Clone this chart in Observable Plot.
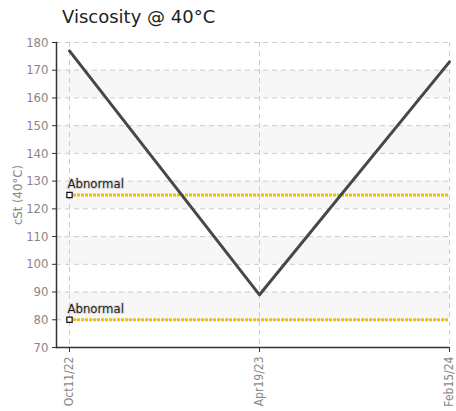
<!DOCTYPE html>
<html><head><meta charset="utf-8">
<script src="https://cdn.jsdelivr.net/npm/d3@7"></script>
<script src="https://cdn.jsdelivr.net/npm/@observablehq/plot@0.6"></script>
<style>
body{margin:0;background:#fff;}
#title{height:35px;box-sizing:border-box;padding-left:62px;padding-top:6px;font:18px "DejaVu Sans",sans-serif;color:#222;}
#chart svg{display:block;}
</style></head><body>
<div id="title">Viscosity @ 40°C</div>
<div id="chart"></div>
<script>
const dates = ["Oct11/22","Apr19/23","Feb15/24"];
const values = [177, 89, 173];
const limits = [125, 80];
const limitLabel = "Abnormal";
const yTicks = [70,80,90,100,110,120,130,140,150,160,170,180];
const bandStarts = [80,100,120,140,160];

const data = dates.map((d,i)=>({date:d, value:values[i]}));
const bands = bandStarts.map(b=>({y1:b, y2:b+10}));
const lim = limits.map(v=>({v, x1:dates[0], x2:dates[dates.length-1]}));
const narrow = "'Liberation Sans Narrow','DejaVu Sans Condensed',sans-serif";

const chart = Plot.plot({
  width:456, height:376,
  marginTop:7, marginBottom:64, marginLeft:56, marginRight:7,
  insetLeft:12,
  style:{fontFamily:narrow, fontSize:"13px", color:"#888", background:"#fff", overflow:"visible"},
  x:{type:"point", domain:dates, padding:0, label:null},
  y:{domain:[70,180], ticks:yTicks, label:"cSt (40°C)"},
  marks:[
    Plot.rectY(bands,{y1:"y1", y2:"y2", fill:"#f7f7f7"}),
    Plot.gridY(yTicks,{stroke:"#ccc", strokeOpacity:1, strokeDasharray:"5,4"}),
    Plot.gridX(dates,{stroke:"#ccc", strokeOpacity:1, strokeDasharray:"5,4"}),
    Plot.axisY({ticks:yTicks, tickSize:4, tickPadding:4, fill:"#888", stroke:"#333", fontSize:13,
      label:"cSt (40°C)", labelAnchor:"center", labelArrow:false, labelOffset:44}),
    Plot.axisX({tickSize:5, tickRotate:-90, fill:"#888", stroke:"#333", fontSize:12, tickPadding:4}),
    Plot.frame({anchor:"left", stroke:"#333", strokeWidth:1.5}),
    Plot.ruleY([70],{stroke:"#333", strokeWidth:1.5}),
    Plot.ruleY(lim,{y:"v", x1:"x1", x2:"x2", stroke:"#f2c200", strokeWidth:3, strokeDasharray:"3,1"}),
    Plot.line(data,{x:"date", y:"value", stroke:"#474747", strokeWidth:3}),
    Plot.dot(lim,{x:"x1", y:"v", symbol:"square", r:3, fill:"#fff", stroke:"#111", strokeWidth:1.2}),
    Plot.text(lim,{x:"x1", y:"v", text:()=>limitLabel, dx:-2, dy:-11, textAnchor:"start", fill:"#222",
      fontSize:13, fontFamily:narrow, stroke:"#ddd", strokeWidth:2, paintOrder:"stroke"})
  ]
});
document.getElementById("chart").append(chart);
</script>
</body></html>
